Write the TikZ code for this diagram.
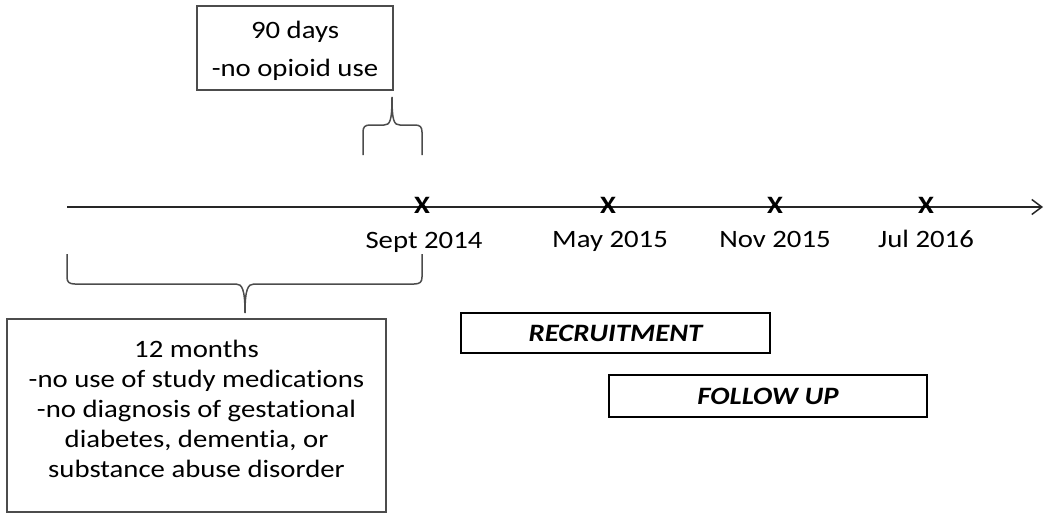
\documentclass[tikz,border=0pt]{standalone}
\usepackage{fontspec}
\setmainfont[FakeStretch=1.15,Ligatures=NoCommon]{Carlito}
\usetikzlibrary{arrows.meta}
\begin{document}
\begin{tikzpicture}[x=1pt,y=-1pt,
  thinbox/.style={draw=black!70, line width=1.4pt, inner sep=0pt},
  boxtext/.style={inner sep=0pt, align=center, font=\fontsize{25}{30}\selectfont},
  thickbox/.style={draw=black, line width=2.6pt, inner sep=0pt, font=\fontsize{25}{30}\selectfont\bfseries\itshape},
  xmark/.style={font=\fontsize{25}{30}\selectfont\bfseries, inner sep=0pt, anchor=base},
  datelbl/.style={font=\fontsize{25}{30}\selectfont, inner sep=0pt, anchor=base},
  bracepath/.style={draw=black!70, line width=1.5pt},
  axis/.style={draw=black!85, line width=1.5pt}]
\useasboundingbox (0,0) rectangle (1050,520);

% timeline
\coordinate (t0) at (67,207);
\coordinate (t1) at (1043,207);
\draw[axis,-{Straight Barb[length=10pt,width=15pt]}] (t0) -- (t1);

% marks and dates
\node[xmark] (m1) at (422,213) {X};
\node[xmark] (m2) at (608,213) {X};
\node[xmark] (m3) at (775,213) {X};
\node[xmark] (m4) at (926,213) {X};
\node[datelbl] (d1) at (424,248) {Sept 2014};
\node[datelbl] (d2) at (610,247) {May 2015};
\node[datelbl] (d3) at (775,247) {Nov 2015};
\node[datelbl] (d4) at (926,247) {Jul 2016};

% top box
\node[thinbox, minimum width=196pt, minimum height=84pt] (tbox) at (295,48) {};
\node[boxtext] (tboxtxt) at (295,51) {90 days\\[8pt]-no opioid use};

% top brace
\coordinate (ta) at (363,155);
\coordinate (tb) at (422,155);
\coordinate (tt) at (392,97);
\draw[bracepath] (ta) -- (363,132) .. controls (363,127) and (365,125) .. (370,125)
  -- (384,125) .. controls (390,125) and (392,121) .. (tt)
  .. controls (392,121) and (394,125) .. (400,125)
  -- (415,125) .. controls (420,125) and (422,127) .. (422,132) -- (tb);

% bottom brace
\coordinate (ba) at (67,254);
\coordinate (bb) at (422,254);
\coordinate (bt) at (245,313);
\draw[bracepath] (ba) -- (67,277) .. controls (67,282) and (69,284) .. (75,284)
  -- (236,284) .. controls (242,284) and (245,289) .. (bt)
  .. controls (245,289) and (248,284) .. (254,284)
  -- (414,284) .. controls (420,284) and (422,282) .. (422,277) -- (bb);

% bottom box
\node[thinbox, minimum width=379pt, minimum height=193pt] (bbox) at (196.5,415.5) {};
\node[boxtext] (bboxtxt) at (196.5,408.5)
  {12 months\\-no use of study medications\\-no diagnosis of gestational\\diabetes, dementia, or\\substance abuse disorder};

% recruitment / follow up
\node[thickbox, minimum width=309pt, minimum height=40pt] (rec) at (615.5,333) {RECRUITMENT};
\node[thickbox, minimum width=318pt, minimum height=42pt] (fol) at (768,396) {FOLLOW UP};
\end{tikzpicture}
\end{document}
